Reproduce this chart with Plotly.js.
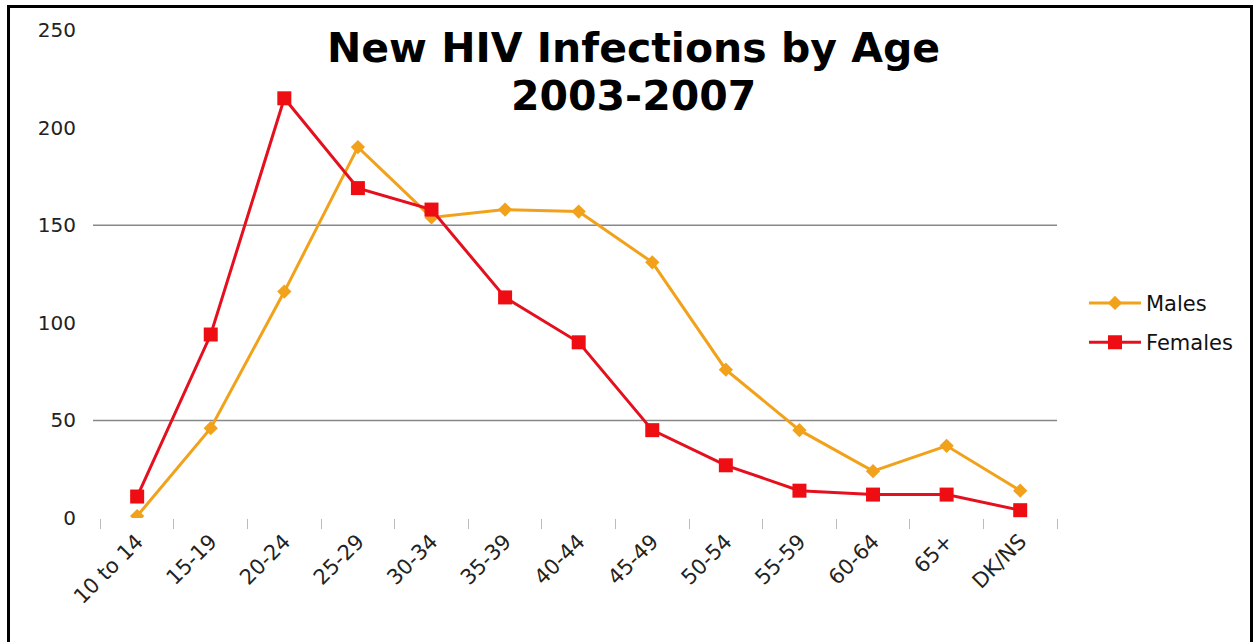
<!DOCTYPE html>
<html>
<head>
<meta charset="utf-8">
<script src="https://cdn.plot.ly/plotly-3.0.1.min.js"></script>
<style>
  html, body { margin: 0; padding: 0; background: #fff; }
  #wrap { position: relative; width: 1255px; height: 642px; overflow: hidden; }
  #chart { position: absolute; left: 0; top: 0; width: 1255px; height: 642px; }
  #frame { position: absolute; left: 7px; top: 5px; width: 1240px; height: 700px; border: 3px solid #000; pointer-events: none; }
</style>
</head>
<body>
<div id="wrap">
  <div id="chart"></div>
  <div id="frame"></div>
</div>
<script>
const categories = ["10 to 14", "15-19", "20-24", "25-29", "30-34", "35-39", "40-44", "45-49", "50-54", "55-59", "60-64", "65+", "DK/NS"];
const males   = [1, 46, 116, 190, 154, 158, 157, 131, 76, 45, 24, 37, 14];
const females = [11, 94, 215, 169, 158, 113, 90, 45, 27, 14, 12, 12, 4];
const yTicks = [0, 50, 100, 150, 200, 250];
const gridValues = [50, 150];
const titleLines = ["New HIV Infections by Age", "2003-2007"];

const font = "DejaVu Sans, Verdana, sans-serif";

const traces = [
  {
    x: categories, y: males, name: "Males", type: "scatter", mode: "lines+markers",
    legendgroup: "m",
    line: { color: "#f2a11a", width: 3 },
    marker: { symbol: "diamond", size: 11, color: "#f2a11a" }
  },
  {
    x: categories, y: females, name: "Females", type: "scatter", mode: "lines+markers",
    legendgroup: "f",
    line: { color: "#e5101e", width: 3 },
    marker: { symbol: "square", size: 14, color: "#ee0d12" }
  }
];

const shapes = gridValues.map(v => ({
  type: "line", xref: "paper", yref: "y", x0: 0, x1: 1, y0: v, y1: v,
  line: { color: "#888", width: 1.5 }, layer: "below"
}));

const titleY = [0.963, 0.865];
const annotations = titleLines.map((t, i) => ({
  text: "<b>" + t + "</b>", xref: "paper", yref: "paper",
  x: 0.561, y: titleY[i], xanchor: "center", yanchor: "middle",
  showarrow: false, align: "center",
  font: { family: font, size: 41, color: "#000" }
}));

const layout = {
  width: 1255, height: 642,
  margin: { l: 93, r: 198, t: 30, b: 124 },
  paper_bgcolor: "#fff", plot_bgcolor: "#fff",
  showlegend: true,
  annotations: annotations,
  legend: {
    x: 1.028, y: 0.40, xanchor: "left", yanchor: "middle",
    font: { family: font, size: 21, color: "#111" },
    itemwidth: 52, tracegroupgap: 9, bgcolor: "rgba(0,0,0,0)"
  },
  xaxis: {
    type: "category", categoryorder: "array", categoryarray: categories,
    range: [-0.6, 12.5],
    showgrid: false, zeroline: false, showline: false,
    tickangle: -45,
    ticks: "outside", tickson: "boundaries", ticklen: 10, tickcolor: "#bbb", tickwidth: 1,
    ticklabelstandoff: 6,
    tickfont: { family: font, size: 21, color: "#222" },
    fixedrange: true
  },
  yaxis: {
    range: [0, 250], tickvals: yTicks, ticktext: yTicks.map(String),
    showgrid: false, zeroline: false, showline: false,
    ticks: "outside", ticklen: 12, tickcolor: "rgba(0,0,0,0)",
    tickfont: { family: font, size: 20, color: "#222" },
    fixedrange: true
  },
  shapes: shapes
};

Plotly.newPlot("chart", traces, layout, { displayModeBar: false, staticPlot: true });
</script>
</body>
</html>
